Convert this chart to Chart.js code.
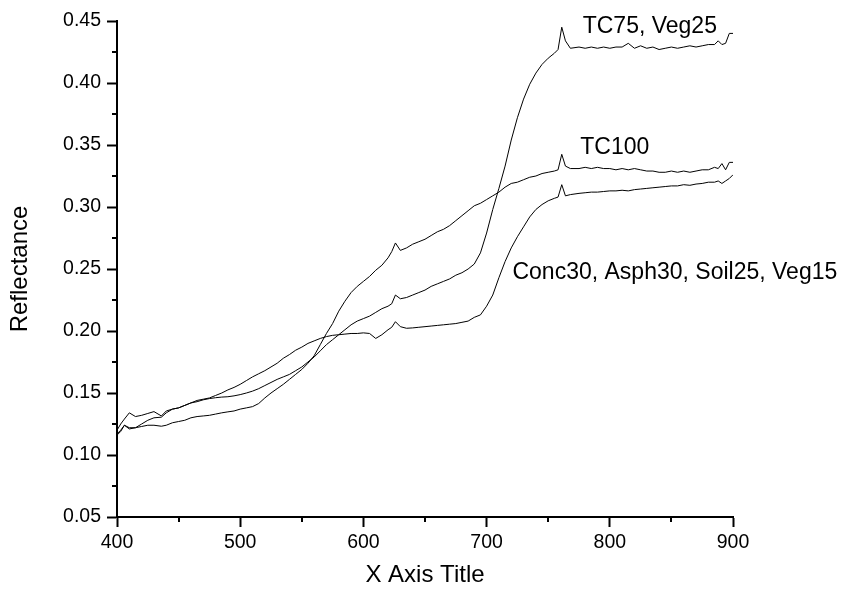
<!DOCTYPE html>
<html>
<head>
<meta charset="utf-8">
<script src="https://cdn.jsdelivr.net/npm/chart.js@4.4.1/dist/chart.umd.min.js"></script>
<style>
html, body { margin: 0; padding: 0; background: #fff; }
#wrap { width: 856px; height: 590px; }
</style>
</head>
<body>
<div id="wrap"><canvas id="reflChart"></canvas></div>
<script>
var wavelengths = [400, 403, 406, 410, 415, 420, 425, 430, 436, 440, 445, 450, 455, 460, 465, 470, 475, 480, 485, 490,
    495, 500, 505, 510, 515, 520, 525, 530, 535, 540, 545, 550, 555, 560, 565, 570, 575, 580, 585, 590,
    595, 600, 605, 610, 615, 620, 623, 626, 630, 635, 640, 645, 650, 655, 660, 665, 670, 675, 680, 685,
    690, 695, 700, 705, 710, 715, 720, 725, 730, 735, 740, 745, 750, 755, 758, 761, 764, 768, 775, 780,
    785, 790, 795, 800, 805, 810, 815, 820, 825, 830, 835, 840, 845, 850, 855, 860, 865, 870, 875, 880,
    885, 888, 891, 894, 897, 900];

var tc75Veg25 = [0.117, 0.120, 0.124, 0.122, 0.122, 0.125, 0.128, 0.130, 0.1305, 0.134, 0.137, 0.138, 0.140, 0.142, 0.143, 0.1445, 0.1455, 0.1462, 0.1467, 0.147,
    0.1477, 0.1487, 0.150, 0.1515, 0.1535, 0.156, 0.1585, 0.161, 0.163, 0.165, 0.168, 0.171, 0.175, 0.179, 0.184, 0.189, 0.193, 0.197, 0.201, 0.205,
    0.208, 0.210, 0.212, 0.215, 0.218, 0.220, 0.222, 0.229, 0.226, 0.227, 0.229, 0.231, 0.233, 0.236, 0.238, 0.240, 0.242, 0.245, 0.247, 0.250,
    0.254, 0.263, 0.279, 0.298, 0.315, 0.333, 0.354, 0.372, 0.387, 0.399, 0.408, 0.415, 0.420, 0.424, 0.427, 0.445, 0.434, 0.428, 0.429, 0.428,
    0.429, 0.428, 0.429, 0.428, 0.429, 0.429, 0.432, 0.428, 0.430, 0.428, 0.429, 0.427, 0.428, 0.429, 0.428, 0.429, 0.430, 0.429, 0.430, 0.431,
    0.431, 0.434, 0.431, 0.432, 0.440, 0.440];

var tc100 = [0.116, 0.119, 0.124, 0.121, 0.122, 0.123, 0.124, 0.124, 0.1232, 0.124, 0.126, 0.127, 0.128, 0.130, 0.131, 0.1315, 0.132, 0.133, 0.134, 0.1348,
    0.1355, 0.137, 0.138, 0.139, 0.1415, 0.146, 0.150, 0.1535, 0.157, 0.161, 0.165, 0.169, 0.174, 0.180, 0.189, 0.198, 0.206, 0.216, 0.224, 0.231,
    0.236, 0.240, 0.244, 0.249, 0.253, 0.259, 0.264, 0.271, 0.265, 0.267, 0.270, 0.272, 0.274, 0.277, 0.280, 0.282, 0.285, 0.289, 0.293, 0.297,
    0.301, 0.303, 0.306, 0.309, 0.312, 0.316, 0.319, 0.320, 0.322, 0.324, 0.325, 0.327, 0.328, 0.329, 0.330, 0.3425, 0.333, 0.331, 0.331, 0.332,
    0.331, 0.332, 0.331, 0.331, 0.330, 0.331, 0.330, 0.331, 0.330, 0.329, 0.329, 0.328, 0.328, 0.329, 0.328, 0.329, 0.328, 0.329, 0.330, 0.330,
    0.332, 0.331, 0.335, 0.330, 0.336, 0.336];

var concAsphSoilVeg = [0.120, 0.125, 0.129, 0.134, 0.131, 0.132, 0.1335, 0.135, 0.1315, 0.1355, 0.137, 0.138, 0.140, 0.142, 0.144, 0.145, 0.146, 0.148, 0.150, 0.1525,
    0.1545, 0.157, 0.160, 0.163, 0.1655, 0.168, 0.171, 0.174, 0.178, 0.181, 0.1845, 0.187, 0.190, 0.192, 0.194, 0.1955, 0.1965, 0.197, 0.1975, 0.198,
    0.198, 0.1985, 0.198, 0.194, 0.197, 0.201, 0.203, 0.2075, 0.2035, 0.2022, 0.2025, 0.203, 0.2035, 0.204, 0.2045, 0.205, 0.2055, 0.206, 0.207, 0.208,
    0.211, 0.213, 0.220, 0.229, 0.243, 0.256, 0.267, 0.276, 0.284, 0.292, 0.298, 0.302, 0.305, 0.307, 0.308, 0.318, 0.309, 0.310, 0.311, 0.3115,
    0.312, 0.312, 0.3125, 0.313, 0.313, 0.3135, 0.313, 0.314, 0.3145, 0.315, 0.3155, 0.316, 0.3165, 0.317, 0.317, 0.318, 0.3175, 0.3185, 0.319, 0.320,
    0.320, 0.321, 0.319, 0.321, 0.323, 0.326];

var seriesNames = ['TC75, Veg25', 'TC100', 'Conc30, Asph30, Soil25, Veg15'];
var labelWavelengths = [778, 776, 721];
var labelValues = [0.4406, 0.3427, 0.2417];

var xTickValues = [400, 500, 600, 700, 800, 900];
var xMinorValues = [450, 550, 650, 750, 850];
var yTickValues = [0.05, 0.10, 0.15, 0.20, 0.25, 0.30, 0.35, 0.40, 0.45];
var yMinorValues = [0.075, 0.125, 0.175, 0.225, 0.275, 0.325, 0.375, 0.425];

var fontName = '"Liberation Sans", Arial, sans-serif';

function toPoints(values) {
    return values.map(function (v, i) { return { x: wavelengths[i], y: v }; });
}

var allSeries = [tc75Veg25, tc100, concAsphSoilVeg];

var datasets = allSeries.map(function (values, i) {
    return {
        label: seriesNames[i],
        data: toPoints(values),
        borderColor: '#000',
        borderWidth: 1,
        pointRadius: 0,
        tension: 0,
        fill: false
    };
});

// minor ticks and in-plot curve labels
var extrasPlugin = {
    id: 'extras',
    afterDraw: function (chart) {
        var ctx = chart.ctx;
        var xs = chart.scales.x;
        var ys = chart.scales.y;
        var area = chart.chartArea;
        ctx.save();
        ctx.strokeStyle = '#000';
        ctx.lineWidth = 2;
        ctx.beginPath();
        xMinorValues.forEach(function (v) {
            var px = Math.round(xs.getPixelForValue(v));
            ctx.moveTo(px, area.bottom);
            ctx.lineTo(px, area.bottom + 5);
        });
        yMinorValues.forEach(function (v) {
            var py = Math.round(ys.getPixelForValue(v));
            ctx.moveTo(area.left, py);
            ctx.lineTo(area.left - 5, py);
        });
        ctx.stroke();

        ctx.fillStyle = '#000';
        ctx.font = '23px ' + fontName;
        ctx.textAlign = 'left';
        ctx.textBaseline = 'alphabetic';
        seriesNames.forEach(function (name, i) {
            ctx.fillText(name, xs.getPixelForValue(labelWavelengths[i]), ys.getPixelForValue(labelValues[i]));
        });
        ctx.restore();
    }
};

Chart.defaults.color = '#000';
Chart.defaults.font.family = fontName;

new Chart(document.getElementById('reflChart'), {
    type: 'line',
    data: { datasets: datasets },
    options: {
        responsive: true,
        maintainAspectRatio: false,
        animation: false,
        layout: { padding: { left: 0, top: 21, right: 123, bottom: 0 } },
        plugins: {
            legend: { display: false },
            tooltip: { enabled: false }
        },
        scales: {
            x: {
                type: 'linear',
                min: 400,
                max: 900,
                afterBuildTicks: function (scale) {
                    scale.ticks = xTickValues.map(function (v) { return { value: v }; });
                },
                afterFit: function (scale) { scale.height = 73; },
                border: { display: true, color: '#000', width: 2 },
                grid: { drawOnChartArea: false, drawTicks: true, tickLength: 10, tickColor: '#000', tickWidth: 2 },
                ticks: { font: { size: 19.5 }, padding: 4, maxRotation: 0, autoSkip: false },
                title: { display: true, text: 'X Axis Title', font: { size: 24 }, padding: { top: 0, bottom: 0 } }
            },
            y: {
                type: 'linear',
                min: 0.05,
                max: 0.45,
                afterBuildTicks: function (scale) {
                    scale.ticks = yTickValues.map(function (v) { return { value: v }; });
                },
                afterFit: function (scale) { scale.width = 117; },
                border: { display: true, color: '#000', width: 2 },
                grid: { drawOnChartArea: false, drawTicks: true, tickLength: 10, tickColor: '#000', tickWidth: 2 },
                ticks: {
                    font: { size: 19.5 },
                    padding: 6,
                    autoSkip: false,
                    callback: function (v) { return v.toFixed(2); }
                },
                title: { display: true, text: 'Reflectance', font: { size: 24 }, padding: { top: 6, bottom: 0 } }
            }
        }
    },
    plugins: [extrasPlugin]
});
</script>
</body>
</html>
